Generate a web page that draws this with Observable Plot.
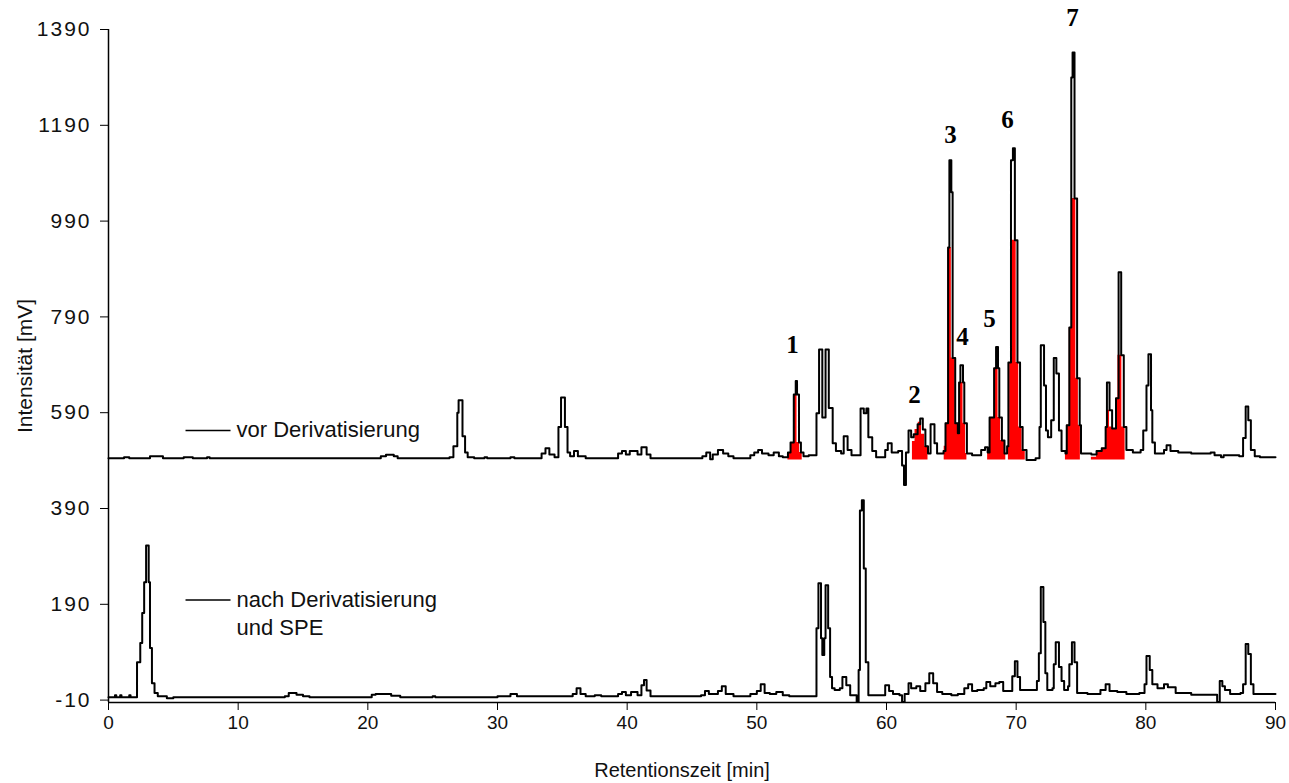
<!DOCTYPE html>
<html>
<head>
<meta charset="utf-8">
<script src="https://cdn.jsdelivr.net/npm/d3@7"></script>
<script src="https://cdn.jsdelivr.net/npm/@observablehq/plot@0.6"></script>
<style>
  html, body { margin: 0; padding: 0; background: #fff; overflow: hidden; }
  #chart svg { display: block; }
  #chart [aria-label="y-axis tick label"] { letter-spacing: 2px; }
</style>
</head>
<body>
<div id="chart"></div>
<script>
// ---- Data (retention time [min], intensity [mV]) ----
const xTicks = [0, 10, 20, 30, 40, 50, 60, 70, 80, 90];
const yTicks = [-10, 190, 390, 590, 790, 990, 1190, 1390];

// Chromatogram "vor Derivatisierung" (upper trace)
const topTrace = [
  [0,495],[1.2,497],[1.6,495],[3.2,499],[4.2,495],[5.8,497],[6.5,495],[7.6,497],[7.8,495],
  [21.0,499],[21.4,502],[22.0,499],[22.3,495],[26.3,497],[26.6,520],[26.9,590],[27.0,616],
  [27.3,541],[27.5,507],[27.7,497],[28.2,495],[29.0,497],[29.2,495],[31.0,497],[31.3,495],
  [33.4,505],[33.7,516],[34.0,503],[34.4,497],[34.7,560],[34.9,622],[35.2,560],[35.4,507],
  [35.6,499],[35.9,510],[36.2,499],[36.8,495],[39.3,505],[39.6,510],[39.9,503],[40.2,510],
  [40.8,503],[41.1,518],[41.5,503],[41.8,495],[45.8,499],[46.1,507],[46.4,493],[46.6,503],
  [47.0,512],[47.4,505],[47.8,499],[48.2,495],[49.5,501],[49.8,507],[50.1,512],[50.4,505],
  [50.9,501],[51.3,507],[51.7,499],[52.0,497],[52.4,507],[52.6,528],[52.85,628],[53.0,656],
  [53.1,628],[53.25,528],[53.4,507],[53.6,499],[54.0,501],[54.6,589],[54.8,722],[55.05,580],
  [55.3,722],[55.55,600],[55.85,526],[56.1,510],[56.5,505],[56.7,541],[57.0,512],[57.3,501],
  [58.0,599],[58.25,589],[58.45,599],[58.6,539],[58.9,510],[59.2,497],[59.9,512],[60.1,526],
  [60.4,507],[60.9,510],[61.2,480],[61.35,439],[61.5,507],[61.7,553],[61.9,539],[62.1,545],
  [62.4,566],[62.6,578],[62.8,555],[63.0,520],[63.2,505],[63.4,566],[63.7,526],[63.9,505],
  [64.4,510],[64.55,568],[64.75,935],[64.85,1117],[65.0,1050],[65.1,704],[65.3,568],[65.5,547],
  [65.6,653],[65.7,689],[65.9,653],[66.0,568],[66.2,505],[66.6,501],[67.3,512],[67.6,518],
  [67.8,507],[67.95,580],[68.3,683],[68.45,727],[68.6,683],[68.7,580],[68.9,532],[69.1,505],
  [69.3,520],[69.4,695],[69.6,1117],[69.75,1142],[69.9,950],[70.1,695],[70.3,560],[70.5,512],
  [70.8,491],[71.5,495],[71.8,560],[71.9,731],[72.15,647],[72.3,553],[72.45,539],[72.7,574],
  [72.9,704],[73.1,672],[73.3,553],[73.5,510],[73.8,505],[73.9,564],[74.1,768],[74.25,1290],
  [74.35,1342],[74.5,1037],[74.7,662],[74.9,564],[75.0,505],[75.8,503],[76.2,510],[76.6,516],
  [76.9,560],[77.0,653],[77.2,595],[77.4,557],[77.7,620],[77.9,883],[78.1,710],[78.3,560],
  [78.5,512],[79.0,507],[79.6,512],[79.8,553],[80.05,647],[80.2,712],[80.4,595],[80.5,528],
  [80.7,505],[81.4,512],[81.6,522],[81.9,510],[82.5,507],[83.5,505],[85.0,507],[85.3,501],
  [85.8,497],[86.0,501],[87.2,499],[87.5,537],[87.7,603],[87.9,574],[88.1,512],[88.4,499],
  [88.8,497],[90,497]
];

// Chromatogram "nach Derivatisierung und SPE" (lower trace)
const bottomTrace = [
  [0,-4],[0.5,0],[0.6,-4],[0.9,0],[1.0,-4],[1.6,0],[1.7,-4],[2.2,69],[2.45,109],[2.6,172],
  [2.75,236],[2.9,313],[3.1,236],[3.2,99],[3.35,25],[3.55,5],[3.8,-2],[4.5,-6],[5.0,-4],
  [13.6,-2],[13.9,5],[14.5,1],[15.0,-2],[15.5,-4],[20.3,1],[20.6,3],[21.8,-1],[22.5,-4],
  [25.0,-2],[25.2,-4],[30.0,-2],[31.0,3],[31.5,-2],[35.8,3],[36.1,15],[36.4,3],[36.8,-2],
  [37.5,0],[38.0,-2],[39.3,3],[39.6,7],[39.9,0],[40.3,7],[40.8,0],[41.1,21],[41.3,32],
  [41.5,10],[41.8,-2],[45.7,0],[46.0,9],[46.3,3],[47.0,9],[47.3,19],[47.6,3],[48.2,-2],
  [49.5,3],[50.0,9],[50.3,23],[50.6,5],[51.0,3],[51.5,7],[52.0,0],[52.5,-2],[54.4,-2],
  [54.6,140],[54.75,234],[54.95,119],[55.05,84],[55.2,119],[55.3,230],[55.5,140],[55.65,38],
  [55.8,15],[56.0,11],[56.4,15],[56.6,38],[56.9,21],[57.2,0],[57.7,-14],[57.85,53],[57.95,386],
  [58.1,407],[58.25,265],[58.4,69],[58.6,0],[59.5,0],[59.9,21],[60.2,9],[60.5,3],[61.0,0],
  [61.2,-14],[61.4,3],[61.7,25],[61.9,15],[62.3,19],[62.6,9],[63.0,25],[63.3,46],[63.6,25],
  [63.9,7],[64.3,3],[65.0,0],[65.5,3],[66.0,15],[66.3,23],[66.6,9],[67.0,11],[67.5,15],
  [67.7,28],[68.0,19],[68.4,25],[68.7,28],[69.0,9],[69.5,9],[69.7,40],[69.9,71],[70.1,38],
  [70.3,11],[71.0,11],[71.6,30],[71.75,88],[71.9,226],[72.1,153],[72.25,46],[72.4,11],
  [72.8,15],[72.9,65],[73.05,111],[73.3,59],[73.5,30],[73.7,11],[74.0,19],[74.1,65],
  [74.3,111],[74.5,69],[74.7,5],[75.5,3],[76.5,11],[76.9,23],[77.2,9],[77.8,7],[78.5,3],
  [79.5,5],[79.9,23],[80.05,82],[80.3,53],[80.5,23],[80.9,15],[81.4,23],[81.7,17],[82.3,5],
  [83.5,1],[84.5,1],[85.5,-14],[85.7,30],[85.9,19],[86.1,11],[86.5,3],[87.3,5],[87.5,23],
  [87.7,107],[87.9,86],[88.1,23],[88.3,3],[90,3]
];

// Red-filled (integrated) peak areas on the upper trace: [group, time, value]
const redBase = 491;
const redPeaks = [
  [1,52.4,507],[1,52.6,528],[1,52.85,628],[1,53.1,528],[1,53.3,507],[1,53.5,491],
  [2,62.0,530],[2,62.2,555],[2,62.45,570],[2,62.7,545],[2,62.95,520],[2,63.2,491],
  [3,64.45,520],[3,64.55,568],[3,64.75,935],[3,65.0,704],[3,65.3,568],[3,65.5,547],[3,65.6,653],[3,65.9,568],[3,66.1,505],[3,66.2,491],
  [5,67.8,507],[5,67.95,580],[5,68.3,683],[5,68.6,580],[5,68.8,532],[5,69.1,505],[5,69.2,491],
  [6,69.4,520],[6,69.5,695],[6,69.7,950],[6,70.0,695],[6,70.2,560],[6,70.45,512],[6,70.7,491],
  [7,73.8,505],[7,73.9,564],[7,74.1,768],[7,74.3,1037],[7,74.6,662],[7,74.8,564],[7,74.95,491],
  [8,75.8,497],[8,76.2,510],[8,76.6,516],[8,76.9,560],[8,77.0,595],[8,77.2,560],[8,77.4,557],[8,77.7,620],[8,77.85,710],[8,78.15,560],[8,78.4,491]
];

// Peak numbers
const peakLabels = ["1", "2", "3", "4", "5", "6", "7"];
const peakLabelT = [52.75, 62.16, 64.93, 65.86, 67.94, 69.33, 74.34];
const peakLabelV = [731, 626, 1169, 747, 785, 1202, 1413];

// Legend entries
const legendText = ["vor Derivatisierung", "nach Derivatisierung", "und SPE"];
const legendTextT = [9.87, 9.87, 9.87];
const legendTextV = [553, 199, 140];
const legendLineT1 = [5.94, 5.94];
const legendLineT2 = [9.41, 9.41];
const legendLineV = [553, 199];

// ---- Build tables ----
const upperRows = topTrace.map(([t, v]) => ({t, v}));
const lowerRows = bottomTrace.map(([t, v]) => ({t, v}));
const redRows = redPeaks.map(([g, t, v]) => ({g, t, v}));
const labelRows = peakLabels.map((s, i) => ({s, t: peakLabelT[i], v: peakLabelV[i]}));
const legTextRows = legendText.map((s, i) => ({s, t: legendTextT[i], v: legendTextV[i]}));
const legLineRows = legendLineV.map((v, i) => ({t1: legendLineT1[i], t2: legendLineT2[i], v}));

const sans = "Arial, 'Liberation Sans', Helvetica, sans-serif";

const chart = Plot.plot({
  width: 1289,
  height: 783,
  marginLeft: 108,
  marginRight: 14,
  marginTop: 29,
  marginBottom: 81,
  style: {fontFamily: sans, color: "#111", background: "#fff", overflow: "visible"},
  x: {domain: [0, 90], label: null},
  y: {domain: [-15, 1390], label: null},
  marks: [
    Plot.areaY(redRows, {x: "t", y1: () => redBase, y2: "v", z: "g", fill: "#ff0000", curve: "step-after"}),
    Plot.line(upperRows, {x: "t", y: "v", stroke: "#000", strokeWidth: 2, curve: "step-after"}),
    Plot.line(lowerRows, {x: "t", y: "v", stroke: "#000", strokeWidth: 2, curve: "step-after"}),
    Plot.ruleX([0], {y1: -15, y2: 1390, stroke: "#000", strokeWidth: 1.5}),
    Plot.ruleY([-15], {x1: 0, x2: 90, stroke: "#000", strokeWidth: 1.5}),
    Plot.axisY({ticks: yTicks, tickSize: 8, tickPadding: 9, fontSize: 21, stroke: "#000", label: null,
      tickFormat: d => String(d), fill: "#111"}),
    Plot.axisX({ticks: xTicks, tickSize: 8, tickPadding: 5, fontSize: 19, stroke: "#000", label: null, fill: "#111"}),
    Plot.text(["Retentionszeit [min]"], {frameAnchor: "bottom", dy: 74, dx: -10, fontSize: 20, fill: "#111"}),
    Plot.text(["Intensität [mV]"], {frameAnchor: "left", dx: -83, rotate: -90, textAnchor: "middle", fontSize: 21, fill: "#111"}),
    Plot.link(legLineRows, {x1: "t1", x2: "t2", y1: "v", y2: "v", stroke: "#000", strokeWidth: 1.5}),
    Plot.text(legTextRows, {x: "t", y: "v", text: "s", textAnchor: "start", fontSize: 22, fill: "#111"}),
    Plot.text(labelRows, {x: "t", y: "v", text: "s", fontSize: 25, fontWeight: "bold",
      fontFamily: "'Liberation Serif', 'Times New Roman', serif", fill: "#000"})
  ]
});

document.getElementById("chart").appendChild(chart);
</script>
</body>
</html>
